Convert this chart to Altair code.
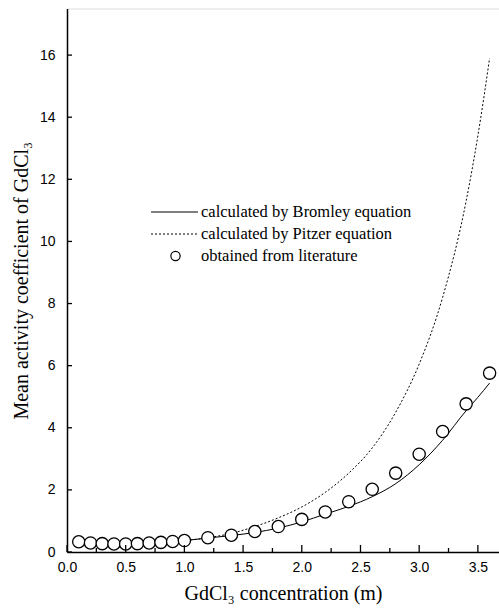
import altair as alt
import pandas as pd

# Literature data: mean activity coefficient of GdCl3 vs molality
lit_m = [0.1, 0.2, 0.3, 0.4, 0.5, 0.6, 0.7, 0.8, 0.9, 1.0,
         1.2, 1.4, 1.6, 1.8, 2.0, 2.2, 2.4, 2.6, 2.8, 3.0, 3.2, 3.4, 3.6]
lit_gamma = [0.33, 0.29, 0.27, 0.26, 0.26, 0.27, 0.29, 0.31, 0.34, 0.37,
             0.46, 0.54, 0.66, 0.82, 1.05, 1.29, 1.62, 2.02, 2.54, 3.15, 3.88, 4.77, 5.76]

# Model curves
calc_m = [0.1, 0.2, 0.3, 0.4, 0.5, 0.6, 0.7, 0.8, 0.9, 1.0,
          1.2, 1.4, 1.6, 1.8, 2.0, 2.2, 2.4, 2.6, 2.8, 3.0, 3.2, 3.4, 3.5, 3.6]
bromley_gamma = [0.33, 0.29, 0.27, 0.26, 0.26, 0.27, 0.29, 0.31, 0.34, 0.37,
                 0.45, 0.53, 0.63, 0.77, 0.97, 1.22, 1.47, 1.78, 2.2, 2.81, 3.6, 4.55, 4.98, 5.44]
pitzer_gamma = [0.33, 0.29, 0.27, 0.26, 0.26, 0.27, 0.29, 0.31, 0.34, 0.37,
                0.46, 0.6, 0.82, 1.1, 1.45, 1.92, 2.54, 3.35, 4.5, 6.05, 8.2, 11.3, 13.4, 15.9]

x_ticks_major = [0.0, 0.5, 1.0, 1.5, 2.0, 2.5, 3.0, 3.5]
x_ticks_minor = [0.25, 0.75, 1.25, 1.75, 2.25, 2.75, 3.25]
y_ticks_major = [0, 2, 4, 6, 8, 10, 12, 14, 16]

legend_labels = ["calculated by Bromley equation",
                 "calculated by Pitzer equation",
                 "obtained from literature"]

W, H = 432, 543.5
X_MAX, Y_MAX = 3.68, 17.5

lit = pd.DataFrame({"m": lit_m, "gamma": lit_gamma})
calc = pd.DataFrame({"m": calc_m, "bromley": bromley_gamma, "pitzer": pitzer_gamma})

xs = alt.Scale(domain=[0, X_MAX], nice=False, zero=False)
ys = alt.Scale(domain=[0, Y_MAX], nice=False, zero=False)

label_font = "Liberation Sans"
title_font = "Liberation Serif"

x_axis = alt.Axis(values=x_ticks_major, format=".1f", ticks=False, grid=False,
                  domainColor="black", domainWidth=1.5, labelFont=label_font,
                  labelFontSize=14, labelColor="black", labelPadding=8,
                  title="GdCl₃ concentration (m)", titleFont=title_font,
                  titleFontSize=20, titleFontWeight="normal", titleColor="black",
                  titlePadding=9, labelFlush=False)
y_axis = alt.Axis(values=y_ticks_major, format="d", ticks=False, grid=False,
                  domainColor="black", domainWidth=1.5, labelFont=label_font,
                  labelFontSize=14, labelColor="black", labelPadding=12,
                  title="Mean activity coefficient of GdCl₃", titleFont=title_font,
                  titleFontSize=20, titleFontWeight="normal", titleColor="black",
                  titlePadding=8, labelFlush=False)

base = alt.Chart(calc)

bromley = base.mark_line(color="black", strokeWidth=1, interpolate="monotone").encode(
    x=alt.X("m:Q", scale=xs, axis=x_axis),
    y=alt.Y("bromley:Q", scale=ys, axis=y_axis),
)
pitzer = base.mark_line(color="black", strokeWidth=1, strokeDash=[2, 2],
                        interpolate="monotone").encode(
    x=alt.X("m:Q", scale=xs),
    y=alt.Y("pitzer:Q", scale=ys),
)
points = alt.Chart(lit).mark_point(shape="circle", size=150, filled=False,
                                   fill="white", fillOpacity=1,
                                   stroke="black", strokeWidth=1.3, opacity=1).encode(
    x=alt.X("m:Q", scale=xs),
    y=alt.Y("gamma:Q", scale=ys),
)

# Inward-pointing tick marks
xmaj = alt.Chart(pd.DataFrame({"t": x_ticks_major})).mark_rule(color="black", strokeWidth=1.3).encode(
    x=alt.X("t:Q", scale=xs), y=alt.value(H), y2=alt.value(H - 7))
xmin = alt.Chart(pd.DataFrame({"t": x_ticks_minor})).mark_rule(color="black", strokeWidth=1.3).encode(
    x=alt.X("t:Q", scale=xs), y=alt.value(H), y2=alt.value(H - 4))
ymaj = alt.Chart(pd.DataFrame({"t": y_ticks_major})).mark_rule(color="black", strokeWidth=1.3).encode(
    y=alt.Y("t:Q", scale=ys), x=alt.value(0), x2=alt.value(5))

# In-plot legend
leg_x0, leg_x1, leg_tx = 84, 131, 134
leg_y = [203.5, 225.5, 247.5]
leg_solid = alt.Chart(pd.DataFrame({"k": [0]})).mark_rule(color="black", strokeWidth=1).encode(
    x=alt.value(leg_x0), x2=alt.value(leg_x1), y=alt.value(leg_y[0]))
leg_dash = alt.Chart(pd.DataFrame({"k": [0]})).mark_rule(color="black", strokeWidth=1, strokeDash=[2, 2]).encode(
    x=alt.value(leg_x0), x2=alt.value(leg_x1), y=alt.value(leg_y[1]))
leg_circ = alt.Chart(pd.DataFrame({"k": [0]})).mark_point(shape="circle", size=85, filled=False,
                                                           stroke="black", strokeWidth=1.2, opacity=1).encode(
    x=alt.value((leg_x0 + leg_x1) / 2 + 1), y=alt.value(leg_y[2]))
leg_text = alt.Chart(pd.DataFrame({"label": legend_labels, "py": leg_y})).mark_text(
    align="left", baseline="middle", font=title_font, fontSize=16.5, color="black").encode(
    x=alt.value(leg_tx), y=alt.Y("py:Q", scale=None), text="label:N")

chart = alt.layer(
    pitzer, bromley, points, xmaj, xmin, ymaj,
    leg_solid, leg_dash, leg_circ, leg_text,
).properties(
    width=W, height=H,
    autosize=alt.AutoSizeParams(type="none"),
    padding={"left": 67, "top": 8.5, "right": 0, "bottom": 60},
).configure_view(
    stroke="black", strokeWidth=1.5,
).configure(background="white")

chart.save("out.html", embed_options={"renderer": "svg", "actions": False})
